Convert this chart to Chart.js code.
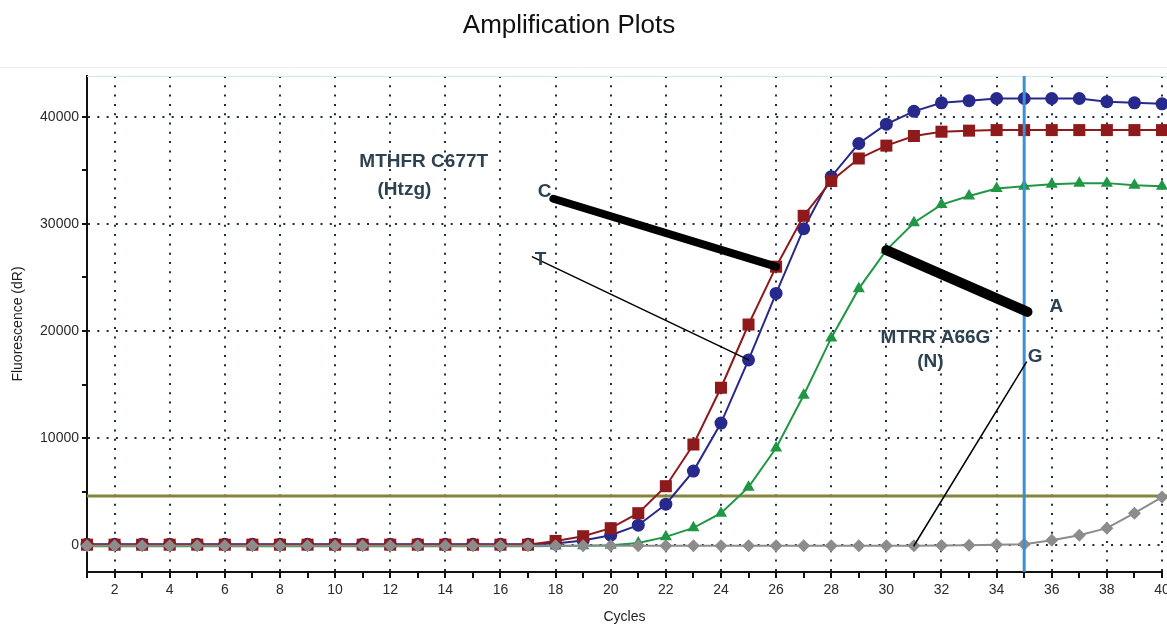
<!DOCTYPE html>
<html>
<head>
<meta charset="utf-8">
<title>Amplification Plots</title>
<script src="https://cdn.jsdelivr.net/npm/chart.js@4/dist/chart.umd.min.js"></script>
<style>
  html, body { margin: 0; padding: 0; background: #fff; }
  #wrap { width: 1167px; height: 626px; }
</style>
</head>
<body>
<div id="wrap"><canvas id="ampChart" width="1167" height="626"></canvas></div>
<script>
// cycle numbers
const cycles = [1, 2, 3, 4, 5, 6, 7, 8, 9, 10, 11, 12, 13, 14, 15, 16, 17, 18, 19, 20,
                21, 22, 23, 24, 25, 26, 27, 28, 29, 30, 31, 32, 33, 34, 35, 36, 37, 38, 39, 40];

// fluorescence (dR)
const mthfrC = [50, 50, 50, 50, 50, 50, 50, 50, 50, 50, 50, 50, 50, 50, 50, 50, 50, 400, 840, 1590,
                2990, 5510, 9400, 14700, 20600, 26000, 30750, 34000, 36100, 37300, 38200, 38600, 38700, 38750, 38750, 38750, 38750, 38750, 38750, 38750];
const mthfrT = [80, 80, 80, 80, 80, 80, 80, 80, 80, 80, 80, 80, 80, 80, 80, 80, 80, 150, 450, 930,
                1870, 3830, 6920, 11400, 17300, 23500, 29550, 34400, 37500, 39300, 40500, 41300, 41500, 41700, 41700, 41700, 41700, 41400, 41300, 41200];
const mtrrA = [-100, -100, -100, -100, -100, -100, -100, -100, -100, -100, -100, -100, -100, -100, -100, -100, -100, -80, -50, 0,
               200, 780, 1620, 2990, 5420, 9070, 14000, 19350, 23950, 27550, 30100, 31800, 32600, 33300, 33500, 33700, 33800, 33800, 33600, 33500];
const mtrrG = [-50, -50, -50, -50, -50, -50, -50, -50, -50, -50, -50, -50, -50, -50, -50, -50, -50, -50, -50, -50,
               -50, -50, -50, -50, -50, -50, -50, -50, -50, -50, -50, -20, 0, 50, 100, 470, 930, 1590, 2990, 4490];

const thresholdValue = 4600;
const markerCycle = 35;

// tick values
const xTicks = cycles;
const yTicks = [0, 5000, 10000, 15000, 20000, 25000, 30000, 35000, 40000];

const chartTitle = 'Amplification Plots';
const FONT = "'Liberation Sans', Arial, sans-serif";
const gridDot = '#1c2e3e';
const noteColor = '#2d4250';

// callout lines and labels (in cycle / dR units)
const callouts = [
    { from: [17.92, 32340], to: [26, 26000], width: 8 },
    { from: [17.16, 26920], to: [25, 17300], width: 1.5 },
    { from: [30, 27550], to: [35.12, 21780], width: 10 },
    { from: [35.08, 17100], to: [31, -50], width: 1.5 }
];
const notes = [
    { text: 'MTHFR C677T', at: [10.88, 35770], align: 'left' },
    { text: '(Htzg)', at: [11.54, 33180], align: 'left' },
    { text: 'C', at: [17.6, 33000], align: 'center' },
    { text: 'T', at: [17.45, 26640], align: 'center' },
    { text: 'MTRR A66G', at: [29.79, 19350], align: 'left' },
    { text: '(N)', at: [31.6, 17100], align: 'center' },
    { text: 'A', at: [36.17, 22240], align: 'center' },
    { text: 'G', at: [35.4, 17570], align: 'center' }
];

const overlay = {
    id: 'overlay',
    beforeDatasetsDraw(chart) {
        const { ctx, chartArea, scales: { x, y } } = chart;
        ctx.save();
        // title
        ctx.fillStyle = '#111';
        ctx.font = '26px ' + FONT;
        ctx.textAlign = 'center';
        ctx.textBaseline = 'middle';
        ctx.fillText(chartTitle, 569, 26);
        // faint separator under title
        ctx.strokeStyle = '#eeeeee';
        ctx.lineWidth = 1;
        ctx.beginPath();
        ctx.moveTo(0, 67.5);
        ctx.lineTo(chart.width, 67.5);
        ctx.stroke();
        // top frame
        ctx.strokeStyle = '#cfe7f0';
        ctx.beginPath();
        ctx.moveTo(chartArea.left, chartArea.top + 0.5);
        ctx.lineTo(chart.width, chartArea.top + 0.5);
        ctx.stroke();
        // threshold
        const ty = y.getPixelForValue(thresholdValue);
        ctx.strokeStyle = '#86863a';
        ctx.lineWidth = 3;
        ctx.beginPath();
        ctx.moveTo(chartArea.left, ty);
        ctx.lineTo(chart.width, ty);
        ctx.stroke();
        ctx.restore();
    },
    afterDatasetsDraw(chart) {
        const { ctx, chartArea, scales: { x, y } } = chart;
        ctx.save();
        const vx = x.getPixelForValue(markerCycle);
        ctx.strokeStyle = '#3d8fd6';
        ctx.lineWidth = 3;
        ctx.beginPath();
        ctx.moveTo(vx, chartArea.top);
        ctx.lineTo(vx, chartArea.bottom);
        ctx.stroke();

        ctx.strokeStyle = '#000';
        ctx.lineCap = 'round';
        callouts.forEach(c => {
            ctx.lineWidth = c.width;
            ctx.beginPath();
            ctx.moveTo(x.getPixelForValue(c.from[0]), y.getPixelForValue(c.from[1]));
            ctx.lineTo(x.getPixelForValue(c.to[0]), y.getPixelForValue(c.to[1]));
            ctx.stroke();
        });

        ctx.fillStyle = noteColor;
        ctx.font = 'bold 19px ' + FONT;
        ctx.textBaseline = 'middle';
        notes.forEach(n => {
            ctx.textAlign = n.align;
            ctx.fillText(n.text, x.getPixelForValue(n.at[0]), y.getPixelForValue(n.at[1]));
        });
        ctx.restore();
    }
};

function series(data, color, style, radius, order) {
    return {
        data: data,
        borderColor: color,
        backgroundColor: color,
        borderWidth: 2,
        pointStyle: style,
        pointRadius: radius,
        pointHoverRadius: radius,
        pointBorderWidth: 0,
        tension: 0,
        clip: false,
        order: order
    };
}

new Chart(document.getElementById('ampChart'), {
    type: 'line',
    data: {
        labels: cycles,
        datasets: [
            series(mthfrC.map((v, i) => ({ x: cycles[i], y: v })), '#8e1a1c', 'rect', 8.5, 1),
            series(mthfrT.map((v, i) => ({ x: cycles[i], y: v })), '#27298c', 'circle', 6.5, 2),
            series(mtrrA.map((v, i) => ({ x: cycles[i], y: v })), '#1f9744', 'triangle', 7, 3),
            series(mtrrG.map((v, i) => ({ x: cycles[i], y: v })), '#8c8c8c', 'rectRot', 6.5, 0)
        ]
    },
    options: {
        responsive: false,
        animation: false,
        layout: { autoPadding: false, padding: { left: 0, right: 5, top: 76, bottom: 0 } },
        plugins: {
            legend: { display: false },
            tooltip: { enabled: false },
            title: { display: false }
        },
        scales: {
            x: {
                type: 'linear',
                min: 1,
                max: 40,
                afterBuildTicks: s => { s.ticks = xTicks.map(v => ({ value: v })); },
                afterFit: s => { s.height = 54; s.paddingLeft = 0; s.paddingRight = 0; },
                ticks: {
                    autoSkip: false,
                    maxRotation: 0,
                    padding: 4,
                    color: '#2a2a2a',
                    font: { family: FONT, size: 14 },
                    callback: v => (v % 2 === 0 ? String(v) : '')
                },
                grid: {
                    color: c => (c.tick && c.tick.value % 2 === 0 ? gridDot : 'rgba(0,0,0,0)'),
                    lineWidth: 2,
                    tickColor: '#111',
                    tickLength: 6,
                    tickWidth: 2
                },
                border: { display: true, color: '#111', width: 2, dash: [2, 7.3] },
                title: {
                    display: true,
                    text: 'Cycles',
                    color: '#222',
                    font: { family: FONT, size: 14 },
                    padding: { top: 0, bottom: 0 }
                }
            },
            y: {
                min: -2500,
                max: 43800,
                afterBuildTicks: s => { s.ticks = yTicks.map(v => ({ value: v })); },
                afterFit: s => { s.width = 87; s.paddingTop = 0; s.paddingBottom = 0; },
                ticks: {
                    padding: 3,
                    color: '#2a2a2a',
                    font: { family: FONT, size: 14 },
                    callback: v => (v % 10000 === 0 ? String(v) : '')
                },
                grid: {
                    color: c => (c.tick && c.tick.value % 10000 === 0 ? gridDot : 'rgba(0,0,0,0)'),
                    lineWidth: 2,
                    tickColor: '#111',
                    tickLength: 5,
                    tickWidth: 2
                },
                border: { display: true, color: '#111', width: 2, dash: [2, 7.3] },
                title: {
                    display: true,
                    text: 'Fluorescence (dR)',
                    color: '#222',
                    font: { family: FONT, size: 14 },
                    padding: { top: 10, bottom: 0 }
                }
            }
        }
    },
    plugins: [overlay]
});
</script>
</body>
</html>
